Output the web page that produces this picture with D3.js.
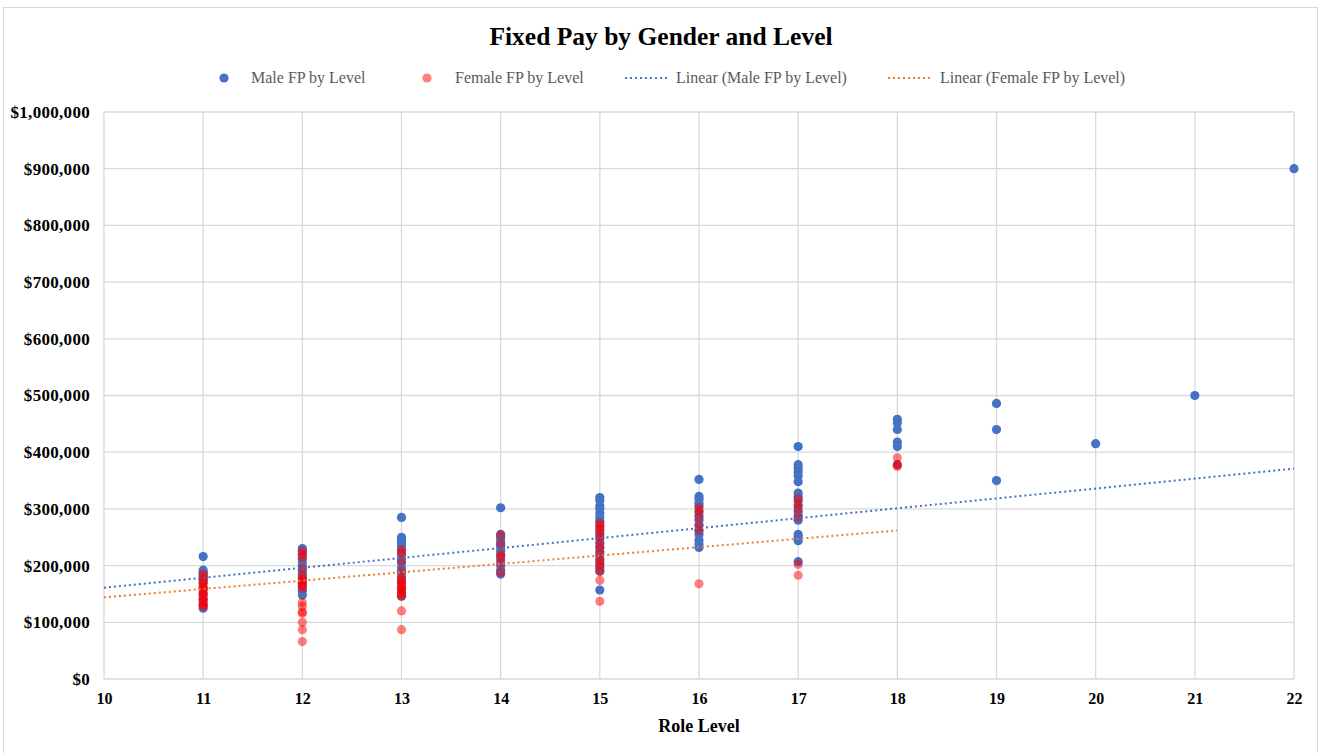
<!DOCTYPE html>
<html>
<head>
<meta charset="utf-8">
<script src="https://cdn.jsdelivr.net/npm/d3@7"></script>
<style>
  html, body { margin: 0; padding: 0; background: #fff; }
  svg { display: block; }
</style>
</head>
<body>
<div id="chart"></div>
<script>
// ---------- data ----------
const chartTitle = "Fixed Pay by Gender and Level";
const xTicks = [10, 11, 12, 13, 14, 15, 16, 17, 18, 19, 20, 21, 22];
const yTicks = [0, 100000, 200000, 300000, 400000, 500000, 600000, 700000, 800000, 900000, 1000000];
const seriesNames = ["Male FP by Level", "Female FP by Level", "Linear (Male FP by Level)", "Linear (Female FP by Level)"];

const maleLevel = [
  11,11,11,11,11,11,11,11,11,11,11,11,
  12,12,12,12,12,12,12,12,12,12,12,12,12,
  13,13,13,13,13,13,13,13,13,13,13,13,13,13,13,13,
  14,14,14,14,14,14,14,14,14,14,14,14,14,
  15,15,15,15,15,15,15,15,15,15,15,15,15,15,15,15,15,15,15,15,
  16,16,16,16,16,16,16,16,16,16,16,16,16,16,
  17,17,17,17,17,17,17,17,17,17,17,17,17,17,17,17,17,
  18,18,18,18,18,18,
  19,19,19,
  20,
  21,
  22
];
const maleFP = [
  216000,192000,188000,184000,180000,176000,170000,160000,150000,140000,132000,125000,
  230000,226000,220000,212000,205000,198000,192000,185000,178000,170000,163000,155000,148000,
  285000,250000,246000,242000,236000,228000,220000,212000,205000,196000,188000,180000,170000,160000,152000,146000,
  302000,255000,250000,245000,240000,236000,230000,225000,218000,210000,200000,192000,185000,
  320000,315000,305000,300000,292000,285000,278000,270000,262000,255000,248000,240000,232000,225000,218000,210000,203000,196000,190000,157000,
  352000,322000,317000,310000,305000,295000,288000,280000,272000,262000,255000,245000,238000,232000,
  410000,378000,372000,365000,358000,348000,328000,322000,315000,305000,295000,288000,280000,255000,250000,244000,207000,
  458000,452000,440000,418000,410000,378000,
  486000,440000,350000,
  415000,
  500000,
  900000
];

const femaleLevel = [
  11,11,11,11,11,11,11,11,11,11,11,11,11,11,11,
  12,12,12,12,12,12,12,12,12,12,12,12,12,12,12,12,12,
  13,13,13,13,13,13,13,13,13,13,13,13,13,13,13,
  14,14,14,14,14,14,
  15,15,15,15,15,15,15,15,15,15,15,15,15,15,
  16,16,16,16,16,16,
  17,17,17,17,17,17,
  18,18,18
];
const femaleFP = [
  185000,180000,175000,170000,166000,162000,158000,154000,150000,146000,142000,138000,134000,130000,128000,
  226000,220000,214000,195000,182000,176000,172000,168000,164000,160000,135000,128000,118000,116000,100000,87000,66000,
  228000,222000,208000,190000,178000,174000,170000,166000,162000,158000,154000,150000,146000,120000,87000,
  254000,238000,220000,215000,204000,188000,
  275000,270000,265000,258000,250000,240000,232000,222000,212000,205000,198000,190000,174000,137000,
  302000,296000,285000,270000,262000,168000,
  318000,308000,300000,285000,202000,183000,
  390000,378000,375000
];

// linear trendlines, endpoints
const maleTrendLevel = [10, 22];
const maleTrendFP = [161000, 371000];
const femaleTrendLevel = [10, 18];
const femaleTrendFP = [144000, 262000];

// ---------- drawing ----------
const W = 1325, H = 753;
const FONT = "'Liberation Serif', 'Times New Roman', serif";
const C_MALE = "#4472C4", C_FEMALE = "#FF0000", C_FTREND = "#ED7D31";
const GRID = "#D9D9D9";

const svg = d3.select("#chart").append("svg")
  .attr("width", W).attr("height", H)
  .style("font-family", FONT);

// chart frame
svg.append("rect")
  .attr("x", 3.5).attr("y", 7.5).attr("width", 1314).attr("height", 780)
  .attr("fill", "#fff").attr("stroke", GRID).attr("stroke-width", 1);

const x = d3.scaleLinear().domain([10, 22]).range([104, 1294]);
const y = d3.scaleLinear().domain([0, 1000000]).range([679, 112]);

// gridlines
svg.append("g").selectAll("line").data(yTicks).join("line")
  .attr("x1", x(10)).attr("x2", x(22))
  .attr("y1", d => y(d)).attr("y2", d => y(d))
  .attr("stroke", GRID).attr("stroke-width", 1.3);
svg.append("g").selectAll("line").data(xTicks).join("line")
  .attr("x1", d => x(d)).attr("x2", d => x(d))
  .attr("y1", y(0)).attr("y2", y(1000000))
  .attr("stroke", GRID).attr("stroke-width", 1.3);

// axes (labels only)
const fmt = d3.format("$,.0f");
const yAxis = svg.append("g").attr("transform", `translate(${x(10)},0)`)
  .call(d3.axisLeft(y).tickValues(yTicks).tickFormat(fmt).tickSize(0).tickPadding(14));
yAxis.select(".domain").remove();
yAxis.selectAll("text")
  .style("font-family", FONT).style("font-size", "17px").style("font-weight", "bold")
  .style("letter-spacing", "0.3px")
  .attr("fill", "#000");

const xAxis = svg.append("g").attr("transform", `translate(0,${y(0)})`)
  .call(d3.axisBottom(x).tickValues(xTicks).tickFormat(d3.format("d")).tickSize(0).tickPadding(14));
xAxis.select(".domain").remove();
xAxis.selectAll("text")
  .style("font-family", FONT).style("font-size", "16px").style("font-weight", "bold")
  .attr("fill", "#000");

// points
const maleData = maleLevel.map((l, i) => ({ l, v: maleFP[i] }));
const femaleData = femaleLevel.map((l, i) => ({ l, v: femaleFP[i] }));

svg.append("g").selectAll("circle").data(maleData).join("circle")
  .attr("cx", d => x(d.l)).attr("cy", d => y(d.v)).attr("r", 4.6)
  .attr("fill", C_MALE);

svg.append("g").selectAll("circle").data(femaleData).join("circle")
  .attr("cx", d => x(d.l)).attr("cy", d => y(d.v)).attr("r", 4.6)
  .attr("fill", C_FEMALE).attr("fill-opacity", 0.5);

// trendlines
const line = d3.line().x(d => x(d[0])).y(d => y(d[1]));
svg.append("path")
  .datum(maleTrendLevel.map((l, i) => [l, maleTrendFP[i]]))
  .attr("d", line).attr("fill", "none").attr("stroke", C_MALE)
  .attr("stroke-width", 2).attr("stroke-dasharray", "2,3");
svg.append("path")
  .datum(femaleTrendLevel.map((l, i) => [l, femaleTrendFP[i]]))
  .attr("d", line).attr("fill", "none").attr("stroke", C_FTREND)
  .attr("stroke-width", 2).attr("stroke-dasharray", "2,3");

// title
svg.append("text")
  .attr("x", 661).attr("y", 45).attr("text-anchor", "middle")
  .style("font-size", "25.5px").style("font-weight", "bold").attr("fill", "#000")
  .text(chartTitle);

// axis title
svg.append("text")
  .attr("x", 699).attr("y", 732).attr("text-anchor", "middle")
  .style("font-size", "18px").style("font-weight", "bold").attr("fill", "#000")
  .text("Role Level");

// legend
const legY = 78;
const leg = svg.append("g").style("font-size", "16px").attr("fill", "#595959");
leg.append("circle").attr("cx", 224).attr("cy", legY).attr("r", 4.6).attr("fill", C_MALE);
leg.append("text").attr("x", 251).attr("y", legY + 5).text(seriesNames[0]);
leg.append("circle").attr("cx", 427).attr("cy", legY).attr("r", 4.6).attr("fill", C_FEMALE).attr("fill-opacity", 0.5);
leg.append("text").attr("x", 455).attr("y", legY + 5).text(seriesNames[1]);
leg.append("line").attr("x1", 625).attr("x2", 668).attr("y1", legY).attr("y2", legY)
  .attr("stroke", C_MALE).attr("stroke-width", 2).attr("stroke-dasharray", "2,3");
leg.append("text").attr("x", 676).attr("y", legY + 5).text(seriesNames[2]);
leg.append("line").attr("x1", 888).attr("x2", 932).attr("y1", legY).attr("y2", legY)
  .attr("stroke", C_FTREND).attr("stroke-width", 2).attr("stroke-dasharray", "2,3");
leg.append("text").attr("x", 940).attr("y", legY + 5).text(seriesNames[3]);
</script>
</body>
</html>
